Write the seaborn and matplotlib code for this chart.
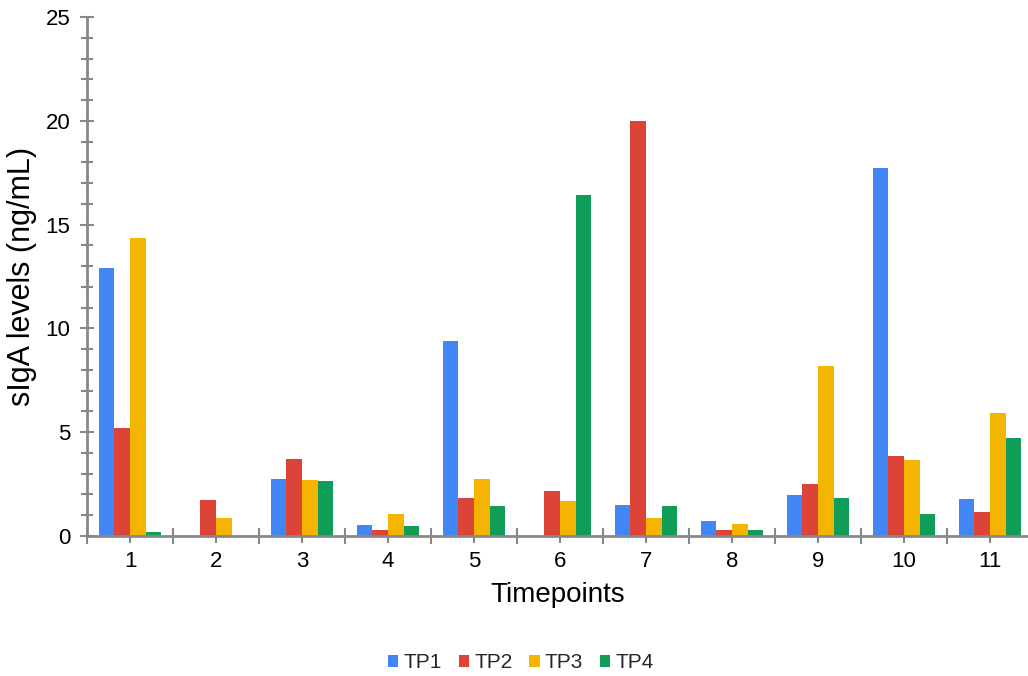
import numpy as np
import pandas as pd
import matplotlib
matplotlib.use("Agg")
import matplotlib.pyplot as plt
from matplotlib.ticker import MultipleLocator, FixedLocator
import seaborn as sns

# sIgA concentration (ng/mL) per timepoint, one list per series
timepoints = ["1", "2", "3", "4", "5", "6", "7", "8", "9", "10", "11"]
series_names = ["TP1", "TP2", "TP3", "TP4"]
tp1 = [12.9, 0.0, 2.75, 0.53, 9.4, 0.0, 1.49, 0.71, 1.97, 17.73, 1.78]
tp2 = [5.2, 1.73, 3.69, 0.30, 1.82, 2.17, 20.0, 0.27, 2.49, 3.85, 1.16]
tp3 = [14.35, 0.88, 2.70, 1.06, 2.75, 1.69, 0.88, 0.59, 8.19, 3.66, 5.92]
tp4 = [0.2, 0.0, 2.65, 0.47, 1.46, 16.43, 1.45, 0.30, 1.85, 1.07, 4.72]
colors = ["#4285F4", "#DB4437", "#F4B400", "#0F9D58"]

rows = []
for name, vals in zip(series_names, [tp1, tp2, tp3, tp4]):
    for t, v in zip(timepoints, vals):
        rows.append({"Timepoint": t, "Series": name, "Value": v})
df = pd.DataFrame(rows)

sns.set_theme(style="white")
plt.rcParams["font.family"] = ["Liberation Sans", "DejaVu Sans"]

fig = plt.figure(figsize=(10.28, 6.76), dpi=100)
W, H = 1028, 676
x0, x1 = 87, 1028
y0, y1 = 536, 17
ax = fig.add_axes([x0 / W, (H - y0) / H, (x1 - x0) / W, (y0 - y1) / H])

sns.barplot(data=df, x="Timepoint", y="Value", hue="Series", order=timepoints,
            hue_order=series_names, palette=colors, width=0.73, gap=0,
            saturation=1, ax=ax, legend=True)
for p in ax.patches:
    p.set_edgecolor("none")

group_px = 86.0
ax.set_xlim(-0.5, -0.5 + (x1 - x0) / group_px)
ax.set_ylim(0, 25)

spine_col = "#888888"
for s in ["top", "right"]:
    ax.spines[s].set_visible(False)
for s in ["left", "bottom"]:
    ax.spines[s].set_color(spine_col)
    ax.spines[s].set_linewidth(2)

ax.yaxis.set_major_locator(MultipleLocator(5))
ax.yaxis.set_minor_locator(MultipleLocator(1))
ax.tick_params(axis="y", which="major", direction="inout", length=10, width=1.5,
               color=spine_col, labelsize=16, labelcolor="#000000", pad=7, left=True)
ax.tick_params(axis="y", which="minor", direction="inout", length=8, width=1.5,
               color=spine_col, left=True)

# category labels at centres, separators between groups
n = len(timepoints)
ax.xaxis.set_major_locator(FixedLocator(np.arange(n)))
ax.xaxis.set_minor_locator(FixedLocator(np.arange(n + 1) - 0.5))
ax.tick_params(axis="x", which="major", direction="out", length=5, width=1.5,
               color=spine_col, labelsize=16, labelcolor="#000000", pad=6, bottom=True)
ax.tick_params(axis="x", which="minor", direction="inout", length=12, width=1.5,
               color=spine_col, bottom=True)

ax.set_xlabel("Timepoints", fontsize=20, color="#000000", labelpad=7)
ax.set_ylabel("sIgA levels (ng/mL)", fontsize=22, color="#000000", labelpad=6)

leg = ax.legend(loc="center", ncol=4, frameon=False, fontsize=15,
                handlelength=0.5, handleheight=0.5, handletextpad=0.25,
                columnspacing=0.8)
leg.set_bbox_to_anchor((521 / W, (H - 663) / H), transform=fig.transFigure)

fig.savefig("out.png", dpi=100, facecolor="white")
